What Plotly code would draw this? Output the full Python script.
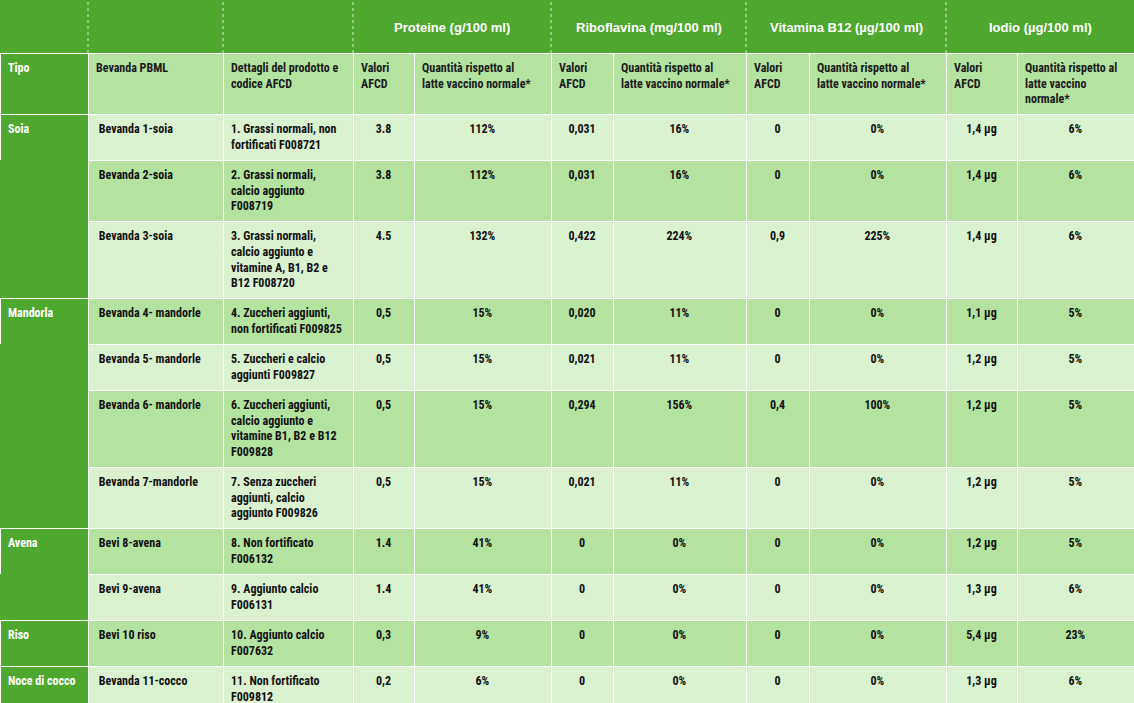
import plotly.graph_objects as go

# Table data
tipo = ["Soia", "", "", "Mandorla", "", "", "", "Avena", "", "Riso", "Noce di cocco"]
bevanda = ["Bevanda 1-soia", "Bevanda 2-soia", "Bevanda 3-soia",
           "Bevanda 4- mandorle", "Bevanda 5- mandorle", "Bevanda 6- mandorle",
           "Bevanda 7-mandorle", "Bevi 8-avena", "Bevi 9-avena", "Bevi 10 riso",
           "Bevanda 11-cocco"]
dettagli = [
    "1. Grassi normali, non<br>fortificati F008721",
    "2. Grassi normali,<br>calcio aggiunto<br>F008719",
    "3. Grassi normali,<br>calcio aggiunto e<br>vitamine A, B1, B2 e<br>B12 F008720",
    "4. Zuccheri aggiunti,<br>non fortificati F009825",
    "5. Zuccheri e calcio<br>aggiunti F009827",
    "6. Zuccheri aggiunti,<br>calcio aggiunto e<br>vitamine B1, B2 e B12<br>F009828",
    "7. Senza zuccheri<br>aggiunti, calcio<br>aggiunto F009826",
    "8. Non fortificato<br>F006132",
    "9. Aggiunto calcio<br>F006131",
    "10. Aggiunto calcio<br>F007632",
    "11. Non fortificato<br>F009812",
]
proteine_val = ["3.8", "3.8", "4.5", "0,5", "0,5", "0,5", "0,5", "1.4", "1.4", "0,3", "0,2"]
proteine_pct = ["112%", "112%", "132%", "15%", "15%", "15%", "15%", "41%", "41%", "9%", "6%"]
ribo_val = ["0,031", "0,031", "0,422", "0,020", "0,021", "0,294", "0,021", "0", "0", "0", "0"]
ribo_pct = ["16%", "16%", "224%", "11%", "11%", "156%", "11%", "0%", "0%", "0%", "0%"]
b12_val = ["0", "0", "0,9", "0", "0", "0,4", "0", "0", "0", "0", "0"]
b12_pct = ["0%", "0%", "225%", "0%", "0%", "100%", "0%", "0%", "0%", "0%", "0%"]
iodio_val = ["1,4 µg", "1,4 µg", "1,4 µg", "1,1 µg", "1,2 µg", "1,2 µg", "1,2 µg",
             "1,2 µg", "1,3 µg", "5,4 µg", "1,3 µg"]
iodio_pct = ["6%", "6%", "6%", "5%", "5%", "5%", "5%", "5%", "6%", "23%", "6%"]

group_titles = ["Proteine (g/100 ml)", "Riboflavina (mg/100 ml)",
                "Vitamina B12 (µg/100 ml)", "Iodio (µg/100 ml)"]
quant = "Quantità rispetto al<br>latte vaccino normale*"
header_labels = ["Tipo", "Bevanda PBML", "Dettagli del prodotto e<br>codice AFCD",
                 "Valori<br>AFCD", quant, "Valori<br>AFCD", quant,
                 "Valori<br>AFCD", quant, "Valori<br>AFCD",
                 "Quantità rispetto al<br>latte vaccino<br>normale*"]

# layout constants
W, H = 1134, 703
TOP = 53
col_w = [88, 135, 130, 61, 137, 62, 133, 63, 137, 71, 117]
DARK = "#4ea72e"
MID = "#b4e3a0"
LIGHT = "#daf2d0"
FONT = "Roboto Condensed, Liberation Sans, Arial"
FS = 12


def cell_text(v):
    # keep single-line cells from being wrapped by the table
    if not v:
        return ""
    if "<br>" not in v:
        v = v.replace(" ", "\u00a0")
    return f"<b>{v}</b>"


columns = [tipo, ["\u00a0" + b for b in bevanda], dettagli, proteine_val, proteine_pct,
           ribo_val, ribo_pct, b12_val, b12_pct, iodio_val, iodio_pct]
n = len(bevanda)
band = [LIGHT if i % 2 == 0 else MID for i in range(n)]
fill = [[DARK] * n] + [band] * (len(columns) - 1)
# hide borders inside a merged "Tipo" group
tipo_lines = ["white" if t else DARK for t in tipo]
lines = [tipo_lines] + [["white"] * n] * (len(columns) - 1)
font_col = ["white"] + ["#111111"] * (len(columns) - 1)
align = ["left", "left", "left"] + ["center"] * 8

fig = go.Figure(go.Table(
    domain=dict(x=[0, 1], y=[0, 1 - TOP / H]),
    columnwidth=col_w,
    header=dict(
        values=[cell_text(h) for h in header_labels],
        fill_color=[DARK] + [MID] * 10,
        line=dict(color="white", width=1),
        font=dict(family=FONT, size=FS, color=["white"] + ["#1a1a1a"] * 10),
        align="left",
        height=61,
    ),
    cells=dict(
        values=[[cell_text(v) for v in c] for c in columns],
        fill_color=fill,
        line=dict(color=lines, width=1),
        font=dict(family=FONT, size=FS, color=font_col),
        align=align,
        height=46,
    ),
))

# group titles in the top band
edges = [sum(col_w[:i]) for i in range(len(col_w) + 1)]
for k, title in enumerate(group_titles):
    x0, x1 = edges[3 + 2 * k], edges[5 + 2 * k]
    fig.add_annotation(
        x=(x0 + x1) / 2 / W, y=1 - 28 / H, xref="paper", yref="paper",
        xanchor="center", yanchor="middle",
        text=f"<b>{title}</b>", showarrow=False,
        font=dict(family="Liberation Sans, Arial", size=13, color="white"),
    )

# dotted separators in the top band
for i in [1, 2, 3, 5, 7, 9]:
    fig.add_shape(
        type="line", xref="paper", yref="paper",
        x0=edges[i] / W, x1=edges[i] / W, y0=1 - TOP / H, y1=1,
        line=dict(color="rgba(255,255,255,0.8)", width=1, dash="dot"),
    )

fig.update_layout(
    width=W, height=H,
    margin=dict(l=0, r=0, t=0, b=0),
    paper_bgcolor=DARK,
)

fig.write_html("out.html", config={"displayModeBar": False},
               post_script="document.body.style.margin='0px';")
